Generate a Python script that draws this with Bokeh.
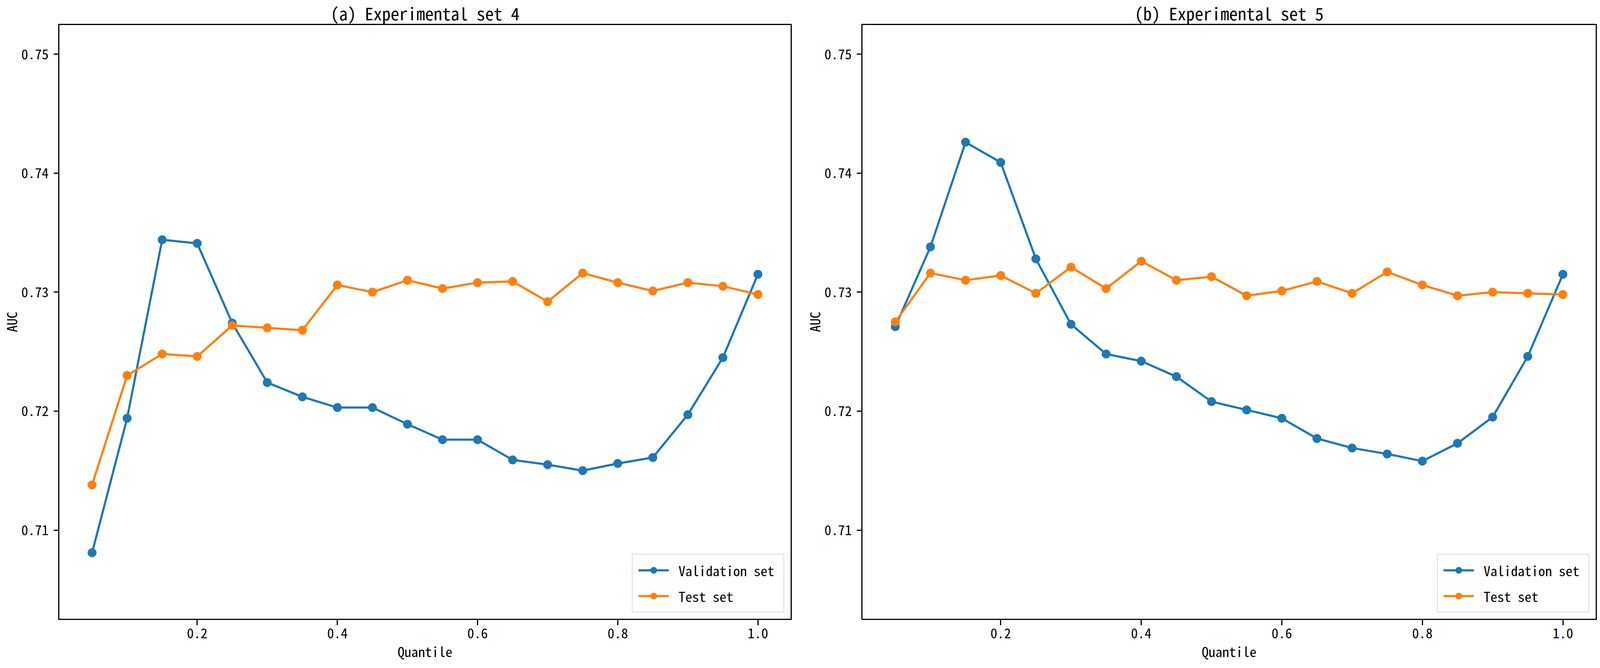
from bokeh.plotting import figure
from bokeh.layouts import row
from bokeh.models import Range1d, FixedTicker, Legend, LegendItem
from bokeh.embed import file_html
from bokeh.resources import INLINE

# ---------------- data ----------------
quantiles = [0.05, 0.10, 0.15, 0.20, 0.25, 0.30, 0.35, 0.40, 0.45, 0.50,
             0.55, 0.60, 0.65, 0.70, 0.75, 0.80, 0.85, 0.90, 0.95, 1.00]

set4_validation = [0.7081, 0.7194, 0.7344, 0.7341, 0.7274, 0.7224, 0.7212, 0.7203, 0.7203, 0.7189,
                   0.7176, 0.7176, 0.7159, 0.7155, 0.7150, 0.7156, 0.7161, 0.7197, 0.7245, 0.7315]
set4_test = [0.7138, 0.7230, 0.7248, 0.7246, 0.7272, 0.7270, 0.7268, 0.7306, 0.7300, 0.7310,
             0.7303, 0.7308, 0.7309, 0.7292, 0.7316, 0.7308, 0.7301, 0.7308, 0.7305, 0.7298]

set5_validation = [0.7271, 0.7338, 0.7426, 0.7409, 0.7328, 0.7273, 0.7248, 0.7242, 0.7229, 0.7208,
                   0.7201, 0.7194, 0.7177, 0.7169, 0.7164, 0.7158, 0.7173, 0.7195, 0.7246, 0.7315]
set5_test = [0.7275, 0.7316, 0.7310, 0.7314, 0.7299, 0.7321, 0.7303, 0.7326, 0.7310, 0.7313,
             0.7297, 0.7301, 0.7309, 0.7299, 0.7317, 0.7306, 0.7297, 0.7300, 0.7299, 0.7298]

titles = ["(a) Experimental set 4", "(b) Experimental set 5"]
series_names = ["Validation set", "Test set"]
x_label = "Quantile"
y_label = "AUC"
x_ticks = [0.2, 0.4, 0.6, 0.8, 1.0]
x_tick_labels = ["0.2", "0.4", "0.6", "0.8", "1.0"]
y_ticks = [0.71, 0.72, 0.73, 0.74, 0.75]
y_tick_labels = ["0.71", "0.72", "0.73", "0.74", "0.75"]

# ---------------- style ----------------
FONT = "'Noto Sans Mono CJK SC', 'DejaVu Sans Mono', monospace"
TICK_FS = "35px"
TITLE_FS = "44px"
BLUE = "#1f77b4"
ORANGE = "#ff7f0e"
LW = 3
H = 1694


def make_panel(title, val, test, width, border_left, border_right):
    p = figure(width=width, height=H, output_backend="svg", toolbar_location=None,
               x_range=Range1d(0.0025, 1.0475), y_range=Range1d(0.7025, 0.7525),
               min_border_left=border_left, min_border_right=border_right,
               min_border_top=56, min_border_bottom=107,
               background_fill_color="white", border_fill_color="white")
    p.title.text = title
    p.title.align = "center"
    p.title.text_font = FONT
    p.title.text_font_size = TITLE_FS
    p.title.text_font_style = "normal"
    p.title.text_color = "black"
    p.title.standoff = -4

    p.outline_line_color = "black"
    p.outline_line_width = LW
    p.outline_line_alpha = 1.0
    p.xgrid.visible = False
    p.ygrid.visible = False

    for ax in (p.xaxis[0], p.yaxis[0]):
        ax.axis_line_color = "black"
        ax.axis_line_width = LW
        ax.major_tick_in = 0
        ax.major_tick_line_width = LW
        ax.major_tick_line_color = "black"
        ax.minor_tick_in = 0
        ax.minor_tick_out = 0
        ax.major_label_text_font = FONT
        ax.major_label_text_font_size = TICK_FS
        ax.major_label_text_color = "black"
        ax.axis_label_text_font = FONT
        ax.axis_label_text_font_size = TICK_FS
        ax.axis_label_text_font_style = "normal"
        ax.axis_label_text_color = "black"

    xa = p.xaxis[0]
    xa.ticker = FixedTicker(ticks=x_ticks)
    xa.major_label_overrides = dict(zip(x_ticks, x_tick_labels))
    xa.axis_label = x_label
    xa.major_tick_out = 15
    xa.major_label_standoff = 7
    xa.axis_label_standoff = 4

    ya = p.yaxis[0]
    ya.ticker = FixedTicker(ticks=y_ticks)
    ya.major_label_overrides = dict(zip(y_ticks, y_tick_labels))
    ya.axis_label = y_label
    ya.major_tick_out = 13
    ya.major_label_standoff = 13
    ya.axis_label_standoff = -3

    items = []
    for name, ys, color in ((series_names[0], val, BLUE), (series_names[1], test, ORANGE)):
        lr = p.line(quantiles, ys, line_color=color, line_width=5.5)
        sr = p.scatter(quantiles, ys, size=22, fill_color=color, line_color=color)
        items.append(LegendItem(label=name, renderers=[lr, sr]))

    legend = Legend(items=items, location="bottom_right")
    legend.label_text_font = FONT
    legend.label_text_font_size = TICK_FS
    legend.label_text_color = "black"
    legend.glyph_width = 78
    legend.glyph_height = 41
    legend.label_standoff = 25
    legend.label_width = 254
    legend.padding = 14
    legend.spacing = 15
    legend.margin = 17
    legend.border_line_color = "#cccccc"
    legend.border_line_width = LW
    legend.background_fill_color = "white"
    legend.background_fill_alpha = 0.8
    p.add_layout(legend)
    return p


p1 = make_panel(titles[0], set4_validation, set4_test, width=2044, border_left=135, border_right=19)
p2 = make_panel(titles[1], set5_validation, set5_test, width=2044, border_left=162, border_right=2)

layout = row(p1, p2)
open("out.html", "w").write(file_html(layout, INLINE))
